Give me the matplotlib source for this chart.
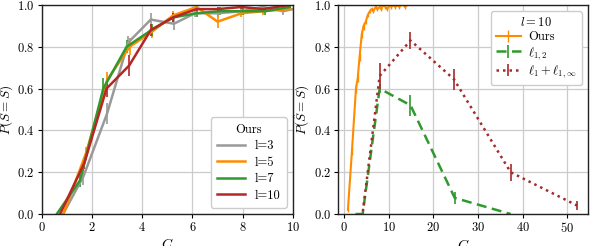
import matplotlib
matplotlib.use("Agg")
import matplotlib.pyplot as plt
from matplotlib.lines import Line2D

plt.rcParams.update({
    "font.family": "serif",
    "font.serif": ["cmr10"],
    "mathtext.fontset": "cm",
    "axes.unicode_minus": False,
    "axes.formatter.use_mathtext": True,
    "font.size": 9,
})

# ---- left panel data (Ours, different l) ----
x_l3 = [0.85, 1.66, 2.6, 3.44, 4.34, 5.26, 6.1, 7.0, 7.97, 8.8, 9.6, 10.0]
y_l3 = [0.0, 0.18, 0.48, 0.82, 0.93, 0.91, 0.96, 0.96, 0.97, 0.99, 0.97, 0.98]
e_l3 = [0.0, 0.04, 0.05, 0.03, 0.03, 0.03, 0.02, 0.02, 0.02, 0.02, 0.02, 0.0]

x_l5 = [0.86, 1.76, 2.6, 3.5, 4.37, 5.23, 6.16, 7.0, 7.95, 8.8, 9.87]
y_l5 = [0.0, 0.29, 0.64, 0.80, 0.87, 0.95, 0.99, 0.92, 0.96, 0.97, 0.98]
e_l5 = [0.0, 0.03, 0.04, 0.04, 0.03, 0.02, 0.01, 0.03, 0.02, 0.02, 0.01]

x_l7 = [0.6, 1.52, 2.45, 3.38, 4.37, 5.23, 6.16, 7.09, 8.0, 8.9, 9.87]
y_l7 = [0.0, 0.16, 0.60, 0.80, 0.88, 0.94, 0.96, 0.97, 0.97, 0.97, 0.99]
e_l7 = [0.0, 0.03, 0.05, 0.03, 0.03, 0.02, 0.02, 0.02, 0.02, 0.02, 0.01]

x_l10 = [0.73, 1.7, 2.58, 3.48, 4.34, 5.23, 6.16, 7.0, 7.95, 8.8, 9.87]
y_l10 = [0.0, 0.245, 0.60, 0.71, 0.88, 0.94, 0.98, 0.98, 0.99, 0.98, 1.0]
e_l10 = [0.0, 0.03, 0.04, 0.05, 0.03, 0.02, 0.01, 0.01, 0.01, 0.01, 0.0]

left_labels = ["l=3", "l=5", "l=7", "l=10"]

# ---- right panel data (l = 10) ----
x_ours = [0.9, 1.8, 2.7, 3.1, 3.5, 4.0, 4.4, 4.9, 5.3, 5.8, 6.2, 6.6, 7.1, 7.5,
          8.0, 8.4, 8.8, 9.3, 9.7, 10.2, 10.6, 11.0, 11.5, 12.0, 12.4, 12.8,
          13.3, 13.7, 14.2, 14.6, 15.0, 15.5, 15.9, 16.4, 16.8, 17.3, 17.7]
y_ours = [0.02, 0.30, 0.60, 0.65, 0.75, 0.86, 0.90, 0.92, 0.95, 0.97, 0.98, 0.97,
          0.99, 0.98, 0.99, 0.98, 1.0, 0.99, 0.98, 1.0, 0.99, 1.0, 0.99, 1.0,
          0.99, 1.0, 1.0, 0.99, 1.0, 1.0, 1.0, 1.0, 1.0, 1.0, 1.0, 1.0, 1.0]
e_ours = [0.01, 0.02, 0.02, 0.02, 0.02, 0.02, 0.02, 0.01, 0.01, 0.01, 0.01, 0.01,
          0.01, 0.01, 0.01, 0.01, 0.0, 0.01, 0.01, 0.0, 0.01, 0.0, 0.01, 0.0,
          0.01, 0.0, 0.0, 0.01, 0.0, 0.0, 0.0, 0.0, 0.0, 0.0, 0.0, 0.0, 0.0]

x_l12 = [2.6, 4.2, 8.0, 14.9, 24.8, 37.3]
y_l12 = [0.0, 0.0, 0.60, 0.52, 0.077, 0.0]
e_l12 = [0.0, 0.0, 0.02, 0.05, 0.03, 0.0]

x_l1inf = [4.25, 8.0, 14.9, 24.6, 37.3, 52.2]
y_l1inf = [0.013, 0.66, 0.83, 0.645, 0.20, 0.04]
e_l1inf = [0.01, 0.06, 0.04, 0.05, 0.04, 0.02]

right_labels = ["Ours", r"$\ell_{1,2}$", r"$\ell_1 + \ell_{1,\infty}$"]

c_gray = "#999999"
c_orange = "#ff8c00"
c_green = "#2e9a2e"
c_red = "#b82525"
c_red2 = "#a52a2a"

fig = plt.figure(figsize=(5.9, 2.46), dpi=100)
ax1 = fig.add_axes([0.0707, 0.130, 0.4259, 0.850])
ax2 = fig.add_axes([0.573, 0.130, 0.4236, 0.850])

for ax in (ax1, ax2):
    ax.grid(True, color="#cccccc", linewidth=0.9)
    ax.set_axisbelow(True)
    for s in ax.spines.values():
        s.set_color("#222222")
        s.set_linewidth(1.0)
    ax.tick_params(direction="out", length=3, width=0.8, labelsize=9, pad=2)
    ax.set_ylim(0, 1)
    ax.set_yticks([0, 0.2, 0.4, 0.6, 0.8, 1.0])
    ax.set_ylabel(r"$P(\hat{S} = S)$", fontsize=9.5, labelpad=1)
    ax.set_xlabel(r"$C$", fontsize=10, labelpad=2)

series = [(x_l3, y_l3, e_l3, c_gray), (x_l5, y_l5, e_l5, c_orange),
          (x_l7, y_l7, e_l7, c_green), (x_l10, y_l10, e_l10, c_red)]
handles = []
for (xs, ys, es, c), lab in zip(series, left_labels):
    ax1.errorbar(xs, ys, yerr=es, color=c, lw=1.8, elinewidth=1.2, capsize=0)
    handles.append(Line2D([], [], color=c, lw=1.8, label=lab))
ax1.set_xlim(0, 10)
ax1.set_xticks([0, 2, 4, 6, 8, 10])
ax1.legend(handles=handles, title="Ours", loc="lower right", fontsize=9,
           title_fontsize=9, frameon=True, fancybox=True, edgecolor="#cccccc",
           framealpha=1.0, borderpad=0.5, handlelength=2.2, labelspacing=0.35)

ax2.errorbar(x_ours, y_ours, yerr=e_ours, color=c_orange, lw=1.5,
             elinewidth=1.0, capsize=0, label=right_labels[0])
ax2.errorbar(x_l12, y_l12, yerr=e_l12, color=c_green, lw=1.8, ls=(0, (4, 2.2)),
             elinewidth=1.2, capsize=0, label=right_labels[1])
ax2.errorbar(x_l1inf, y_l1inf, yerr=e_l1inf, color=c_red2, lw=1.8,
             ls=(0, (1, 1.6)), elinewidth=1.2, capsize=0, label=right_labels[2])
ax2.set_xticks([0, 10, 20, 30, 40, 50])
ax2.set_xlim(-1.3, 54.6)
ax2.legend(title=r"$l = 10$", loc="upper right", fontsize=9, title_fontsize=9,
           frameon=True, fancybox=True, edgecolor="#cccccc", framealpha=1.0,
           borderpad=0.4, handlelength=2.0, labelspacing=0.15,
           handletextpad=0.6)

fig.savefig("out.png", dpi=100)
